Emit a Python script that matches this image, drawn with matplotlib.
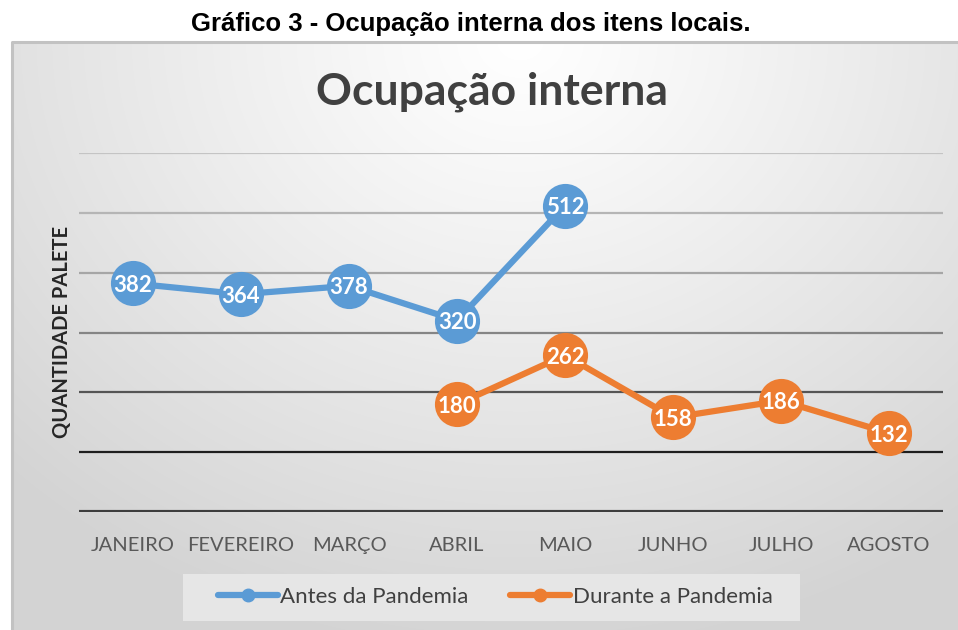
import matplotlib
import numpy as np

matplotlib.use("Agg")
from matplotlib import pyplot as plt
from matplotlib.patches import Rectangle
from matplotlib.lines import Line2D

MONTHS = ["JANEIRO", "FEVEREIRO", "MARÇO", "ABRIL", "MAIO", "JUNHO", "JULHO", "AGOSTO"]
ANTES = [382, 364, 378, 320, 512, None, None, None]
DURANTE = [None, None, None, 180, 262, 158, 186, 132]
SERIES = (("Antes da Pandemia", ANTES, "#5b9bd5"), ("Durante a Pandemia", DURANTE, "#ed7d31"))
GRID_VALUES = [0, 100, 200, 300, 400, 500, 600]
GRID_COLORS = ["#3d3d3d", "#1e1e1e", "#555555", "#858585", "#a6a6a6", "#b5b5b5", "#c4c4c4"]

W, H = 958, 630
FONT = ["Lato", "DejaVu Sans"]

fig = plt.figure(figsize=(W / 100, H / 100), dpi=100)

# gradient background of the chart box
bg = fig.add_axes([0, 0, 1, 1])
bg.set_xlim(0, W)
bg.set_ylim(H, 0)
bg.axis("off")
yy, xx = np.mgrid[0:H, 0:W]
dist = np.hypot((xx - 520) / 1.0, (yy - 40) / 0.85)
shade = np.clip(dist / 720, 0, 1)
gray = 1.0 - 0.17 * shade ** 1.1
img = np.dstack([gray, gray, gray])
img[:41, :, :] = 1.0
img[:, :12, :] = 1.0
bg.imshow(img, extent=(0, W, H, 0), aspect="auto", interpolation="bilinear")
bg.plot([12.5, 12.5, W], [H, 41.5, 41.5], color="#c2c2c2", lw=2.2)

fig.text(471 / W, 1 - 24 / H, "Gráfico 3 - Ocupação interna dos itens locais.",
         ha="center", va="center", fontsize=18.5, fontweight="bold",
         family=["Liberation Sans", "DejaVu Sans"], color="#000000")
fig.text(492 / W, 1 - 92 / H, "Ocupação interna", ha="center", va="center",
         fontsize=32, fontweight="bold", family=FONT, color="#404040")
fig.text(62 / W, 1 - 332 / H, "QUANTIDADE PALETE", ha="center", va="center",
         rotation=90, fontsize=14.5, fontweight="bold", family=FONT, color="#262626")

ax = fig.add_axes([79 / W, 1 - 512 / H, 864 / W, 359 / H])
ax.patch.set_alpha(0)
x = np.arange(len(MONTHS))
ax.set_xlim(-0.5, len(MONTHS) - 0.5)
ax.set_ylim(0, 600)
for value, color in zip(GRID_VALUES, GRID_COLORS):
    ax.axhline(value, color=color, lw=3.0 if value == 0 else 1.6, zorder=1)

for name, values, color in SERIES:
    y = np.array([np.nan if v is None else v for v in values], dtype=float)
    ax.plot(x, y, color=color, lw=4.5, marker="o", markersize=32.5,
            markeredgewidth=0, solid_capstyle="round", zorder=3)
    for xi, v in zip(x, values):
        if v is not None:
            ax.text(xi, v, str(v), ha="center", va="center_baseline", color="white",
                    fontsize=16, fontweight="bold", family=FONT, zorder=4)

for s in ax.spines.values():
    s.set_visible(False)
ax.set_yticks([])
ax.set_xticks(x)
ax.set_xticklabels(MONTHS, family=FONT, fontsize=14.5, color="#595959")
ax.tick_params(axis="x", length=0, pad=18)

# legend
bg.add_patch(Rectangle((183, 574), 617, 47, facecolor="#e6e6e6", edgecolor="none", zorder=2))
handles = [Line2D([], [], color=c, lw=4.5, marker="o", markersize=9, solid_capstyle="round")
           for _, _, c in SERIES]
fig.legend(handles, [n for n, _, _ in SERIES], loc="center", ncol=2,
           bbox_to_anchor=(495 / W, 1 - 597 / H), frameon=False,
           prop={"family": FONT, "size": 16}, labelcolor="#404040",
           handlelength=2.7, handletextpad=0.1, columnspacing=1.9)

fig.savefig("out.png", dpi=100)
